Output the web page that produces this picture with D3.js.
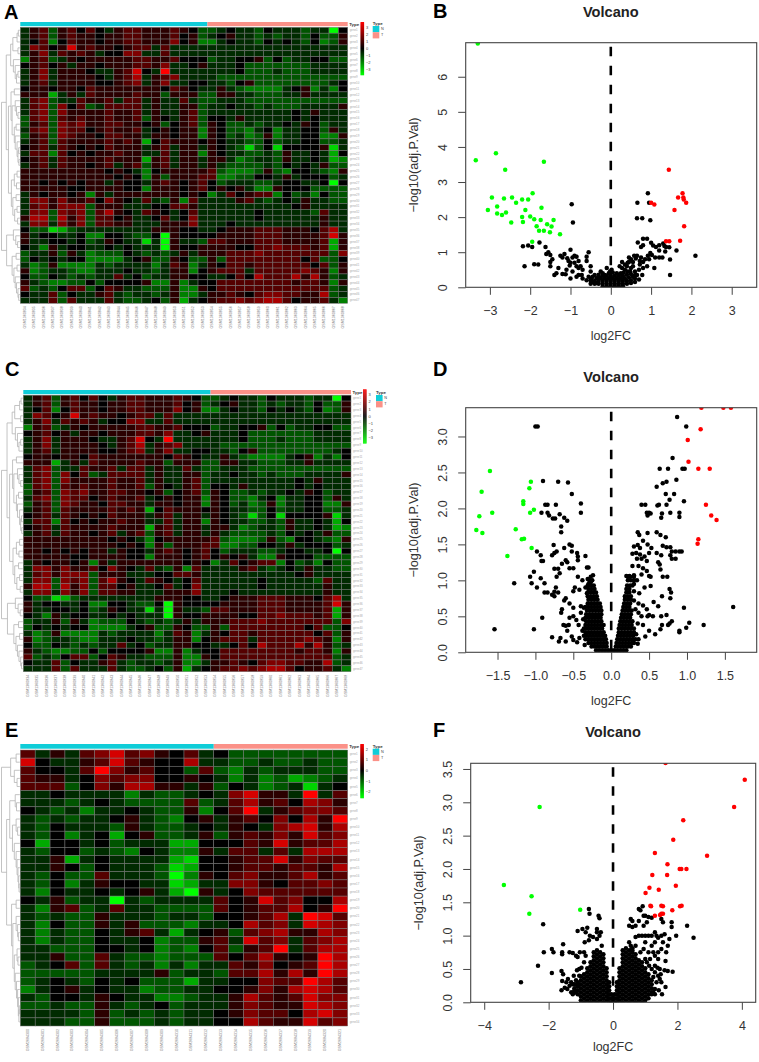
<!DOCTYPE html>
<html><head><meta charset="utf-8">
<script src="https://cdn.jsdelivr.net/npm/d3@7/dist/d3.min.js"></script>
<style>html,body{margin:0;padding:0;background:#fff}svg{display:block}text{font-family:"Liberation Sans",Arial,sans-serif}</style>
</head><body><svg id="fig" width="759" height="1062"></svg>
<script>
// ---------- heatmap A / C (47 rows, 20 N + 15 T); each digit 0..c is a colour level, 6 = black
const heatRowsA = [
"57847 86865 78877 78764 45655 46555 45506","57847 87767 78877 78674 56755 45455 46447",
"56836 87767 78877 79673 35655 46565 46347","59867 b7877 67885 85555 55555 55555 55555",
"57958 78756 69955 85555 55555 55555 55555","37845 76777 77887 78666 45566 74645 56644",
"67867 57767 77887 95567 55564 44444 45555","57957 77655 78b65 c5555 55564 44544 45555",
"57957 77765 78a57 89555 54444 44444 44444","57857 77766 78957 95566 55467 44444 44456",
"67767 76877 77777 68765 57543 33356 73536","77725 75877 77877 47774 47755 44455 75555",
"58945 58778 58857 55854 45554 44444 44444","58949 68458 88857 55774 55655 45444 55557",
"58949 77778 77857 55784 55555 55556 57555","48948 78778 77847 65784 66575 55556 56555",
"47849 89778 87767 46784 76445 45565 76455","58949 88678 77856 76773 76443 56355 66475",
"47849 87768 87757 76773 76453 47355 66337","57848 77778 78726 87776 76554 46455 66445",
"67858 76768 77757 85775 76541 46166 66715","58838 67677 87755 85773 76554 45475 56526",
"67858 77778 77727 85775 77534 55475 56523","57858 77678 57847 85775 75444 45465 65744",
"77777 77776 76536 77777 84333 47436 65437","77777 77777 67637 47778 83344 66575 66645",
"77676 76775 76657 87678 64555 44566 55606","77777 66777 76637 77678 67675 33766 64444",
"57677 67375 77777 77676 35867 88364 53644","59979 77869 76585 47385 55578 54565 75544",
"58979 99477 75556 68875 55555 55556 75555","59949 8948a 76587 65685 55555 65555 54855",
"7aa4a 79488 67556 85695 55555 65555 55755","59959 79488 77555 77795 55655 55555 55755",
"64412 45555 55557 77665 56777 88877 768a5","75665 56336 65446 07666 67777 88877 778b7",
"75566 56457 65515 07554 88777 88877 77827","65375 66556 56555 07667 77766 88988 87827",
"45574 75344 46545 45757 77888 98888 88849","46565 66333 35674 47644 74888 88888 68446",
"53473 33354 55553 58735 76887 88888 86847","73455 43355 56554 57736 78885 88888 98737",
"64465 45455 85645 57766 55686 a888a 7a745","75433 44646 66673 37356 68888 88887 88737",
"84546 88468 75544 47337 68888 88888 88845","65584 65578 54554 57335 77876 89988 77a45",
"55584 85558 54456 47256 78898 9aa86 77853"];
// ---------- heatmap E (34 rows, 13 N + 9 T)
const heatRowsE = [
"85758 9b897 68564 44444 44","b6557 8b876 6a554 45445 44","86658 c9786 64843 54555 44",
"87756 98996 67653 53423 45","88846 97aa7 75746 53451 56","55655 55354 45659 b775c 58",
"55545 65444 48458 a786a 97","65453 55654 47368 c5789 98","54545 56754 36757 8696a 7c",
"54655 54754 45657 659ab 7a","54635 62674 45747 8797b 89","62665 64555 22666 87b78 8a",
"54664 54365 33758 8585a aa","55725 65555 21667 88b79 88","55764 65554 12667 88788 7a",
"54644 85554 03768 9778a 78","54635 76655 12559 97688 98","53655 65675 20756 98888 88",
"65745 50545 55586 7b896 6a","53784 58554 44486 788a6 7c","54544 75554 55466 78a5c b8",
"53644 75744 43556 a895b a9","53544 65785 25674 89a77 a9","53544 65563 44785 b8958 9a",
"55444 66563 43684 78c58 aa","55744 85443 44486 8a767 ca","45684 85453 53558 79678 ca",
"44444 55557 45548 8a7a7 ca","45654 65644 42556 6988c a8","35675 65534 45566 797ab a8",
"54665 76553 34557 a878b 99","44544 75456 45557 9877b a9","55554 74545 45567 9886a b9",
"55544 74445 45566 a877b 89"];
const typeCountsAC = [20, 15];
const typeCountsE = [13, 9];
const typeNames = ["N", "T"];
const colorTicksAC = [3, 2, 1, 0, -1, -2, -3];
const colorTicksE = [2, 1, 0, -1, -2];
const colorMaxAC = 3.8, colorMaxE = 2.5;
const sampleNamesA = ["GSM1360834","GSM1360835","GSM1360836","GSM1360837","GSM1360838","GSM1360839","GSM1360840","GSM1360841","GSM1360842","GSM1360843","GSM1360844","GSM1360845","GSM1360846","GSM1360847","GSM1360848","GSM1360849","GSM1360850","GSM1360851","GSM1360852","GSM1360853","GSM1360854","GSM1360855","GSM1360856","GSM1360857","GSM1360858","GSM1360859","GSM1360860","GSM1360861","GSM1360862","GSM1360863","GSM1360864","GSM1360865","GSM1360866","GSM1360867","GSM1360868"];
const sampleNamesE = ["GSM2684300","GSM2684301","GSM2684302","GSM2684303","GSM2684304","GSM2684305","GSM2684306","GSM2684307","GSM2684308","GSM2684309","GSM2684310","GSM2684311","GSM2684312","GSM2684313","GSM2684314","GSM2684315","GSM2684316","GSM2684317","GSM2684318","GSM2684319","GSM2684320","GSM2684321"];
// ---------- dendrograms: [height, left, right], leaves are row numbers
const treeAC = [1,
 [.74,
  [.5,[.38,[.15,[.08,0,1],2],[.1,3,4]],[.35,5,[.25,6,[.18,[.1,7,8],9]]]],
  [.62,[.48,[.3,10,11],[.42,[.25,12,[.18,13,[.1,14,15]]],[.3,[.2,16,17],[.25,18,[.15,19,[.1,[.06,20,21],[.05,22,23]]]]]]],
       [.46,[.3,[.15,24,25],[.18,26,27]],[.38,[.2,28,29],[.28,[.15,30,31],[.12,32,33]]]]]],
 [.72,[.35,34,[.22,35,[.12,36,37]]],[.42,[.2,38,39],[.32,[.15,40,41],[.25,42,[.18,43,[.1,44,[.06,45,46]]]]]]]];
const treeE = [1,
 [.5,[.2,0,1],[.3,2,[.15,3,4]]],
 [.72,[.55,[.25,5,[.18,6,7]],[.4,[.2,8,[.12,9,10]],[.3,11,[.2,12,[.15,13,[.1,14,[.06,15,[.04,16,17]]]]]]]],
      [.45,[.2,18,19],[.38,[.2,20,[.12,21,[.08,22,23]]],[.3,[.15,24,[.1,25,26]],[.25,27,[.18,28,[.12,29,[.08,30,[.05,[.03,31,32],33]]]]]]]]]];
// ---------- volcano B
const bGreen = [[-3.3,6.95],[-3.35,3.62],[-2.85,3.82],[-2.62,3.35],[-1.66,3.58],[-2.95,2.56],[-2.65,2.53],[-2.45,2.56],[-2.2,2.5],[-2.05,2.5],[-2.35,2.41],[-1.94,2.68],[-2.82,2.3],[-3.05,2.2],[-2.82,2.1],[-2.7,2.06],[-2.6,2.13],[-2.12,2.2],[-1.72,2.27],[-2.2,2],[-2.18,1.86],[-2.47,1.85],[-2,2.02],[-1.9,1.94],[-1.74,1.92],[-1.42,1.92],[-1.58,1.8],[-1.47,1.73],[-1.84,1.74],[-1.78,1.61],[-1.66,1.61],[-1.51,1.57],[-1.26,1.51],[-1.95,1.3]];
const bRed = [[1.44,3.35],[1.78,2.68],[1.67,2.56],[1.8,2.56],[1.81,2.5],[1.87,2.41],[1,2.41],[1.08,2.36],[1.58,2.2],[1.82,1.74],[1.37,1.31],[1.45,1.31],[1.72,1.33]];
const bBlack = [[-.97,2.37],[-.94,1.85],[.92,2.68],[.66,2.41],[.95,2.41],[.65,1.97],[.78,1.97],[.98,1.91],[-1.77,1.28],[-2.18,1.17],[-2.05,1.19],[-1.95,1.15],[-1.62,1.15],[-2.14,.6],[-1.9,.66],[-1.8,.65],[2.1,.9],[1.47,.35],[1.47,.79],[1.63,1.05],[1.45,1.14],[1.37,1.15],[1.3,1.25],[1.33,1.18],[1.2,1.05],[.67,1.28],[.75,1.15],[.8,1.2],[.8,1.38],[.9,1.38],[1,1.27],[1.05,1.19],[1.12,1.15],[1.2,1.2],[1.35,1.02],[1.28,.85],[1.2,.85],[1.1,.85],[1.08,.55],[.98,.98],[.92,.9],[1.02,.92],[.95,.8],[.85,.8],[.8,.72],[.75,.85],[.72,.65],[.65,.9],[.58,.9],[.5,.8],[.45,.85],[.42,.7],[.9,.6],[.8,.55],[.7,.5],[.78,.35],[.65,.35],[.55,.6],[.6,.45],[.5,.55],[.4,.6],[.35,.5],[.28,.72],
[-1,1.07],[-.55,1],[-.6,.87],[-.6,.75],[-1.6,.95],[-1.55,1],[-1.5,.92],[-1.45,.8],[-1.5,.72],[-1.5,.6],[-1.4,.35],[-1.35,.4],[-1.3,.55],[-1.25,.9],[-1.2,.85],[-1.15,.95],[-1.2,.38],[-1.12,.37],[-1.1,.5],[-1,.25],[-1,.7],[-.95,.85],[-.9,.9],[-.85,.87],[-.9,.7],[-.85,.6],[-.8,.55],[-.75,.6],[-.7,.5],[-.72,.35],[-.8,.35],[-.7,.25],[-.85,.3],[-.6,.2],[-.55,.3],[-.5,.6],[-.5,.45],[-.48,.25],[-.45,.15],[-.4,.35],[-.35,.12],[-.3,.3],[-.25,.45],[-.2,.4],[-.15,.35],[-.1,.55],[-.95,.45],[-1.05,.75],[-.8,.75],[-1.08,.83],[-1.02,.62],
[-.5,.1],[-.4,.1],[-.3,.1],[-.2,.03],[-.2,.1],[-.1,.03],[-.1,.1],[0,.03],[0,.1],[.1,.03],[.1,.1],[.2,.03],[.2,.1],[.3,.03],[.3,.1],[.4,.1],[.5,.12],[.6,.15],[-.5,.2],[-.4,.18],[-.3,.18],[-.2,.18],[-.1,.18],[0,.18],[.1,.18],[.2,.18],[.3,.18],[.4,.18],[.5,.2],[.6,.25],[.7,.22],
[-.45,.3],[-.35,.26],[-.25,.26],[-.15,.26],[-.05,.26],[.05,.26],[.15,.26],[.25,.26],[.35,.26],[.45,.28],[.55,.3],[-.3,.36],[-.2,.33],[-.1,.33],[0,.33],[.1,.33],[.2,.33],[.3,.33],[.4,.36],[.5,.38],[.6,.35],[.05,.42],[.15,.4],[.25,.4],[.32,.42],[.42,.45],[.48,.45],[.28,.55],[.22,.6],[.35,.65],[.45,.72],[.55,.72],[.62,.82],[.72,.75],[-.05,.4],[-.02,.45],[.02,.5]];
// ---------- volcano D
const dGreen = [[-1.6,2.52],[-1.71,2.23],[-1.74,1.89],[-1.57,1.94],[-1.78,1.7],[-1.7,1.66],[-1.26,1.71],[-1.18,1.57],[-1.15,1.58],[-1.37,1.34],[-1.05,1.45],[-1.06,2.37],[-1.08,2.28],[-1.16,2.1],[-1.16,2.06],[-1.02,1.98],[-1.07,1.94]];
const dRed = [[1.19,3.4],[1.48,3.4],[1.58,3.4],[1.18,3.1],[1.01,2.95],[1.02,2.65],[1.15,2.55],[1.3,2.55],[1.25,2.05],[1.32,1.9],[1.39,1.84],[1.15,1.57],[1.14,1.51]];
const dBlack = [[-1,3.14],[-.97,3.14],[.87,3.27],[.99,3.14],[.81,2.7],[.64,2.55],[.75,2.55],[.94,2.55],[.97,2.55],[.86,2.4],[.73,2.37],[.6,2.3],[.68,2.35],[.83,2.2],[.72,2.2],[.77,2.12],[.96,2.1],[.73,2.05],[.63,2.05],[.61,2.04],[.45,2.05],[.4,2.05],[.47,1.94],[.5,1.94],[.52,1.93],[.48,1.9],[.67,1.93],[.66,1.87],[.78,1.94],[.9,1.94],[.9,1.88],
[-.9,2.38],[-.7,2.37],[-.57,2.36],[-.52,2.2],[-.4,2.07],[-.4,1.94],[-.87,2.05],[-.84,2.05],[-.73,2.05],[-.92,1.94],[-.84,1.94],[-.82,1.9],[-.77,1.86],[-.74,1.86],[-.68,1.92],[-.62,1.87],[-.58,1.83],[-.66,1.75],[-.66,1.67],
[-.76,1.49],[-.75,1.38],[-.72,1.4],[-.78,1.35],[-.62,1.45],[-.55,1.5],[-.52,1.48],[-.52,1.4],[-.45,1.38],[-.44,1.33],[-.44,1.28],[-.34,1.34],[-.6,1.28],[-.58,1.25],[-.65,1.23],[-.55,1.17],[-.5,1.17],[-.7,1.16],[-.75,1.16],[-.72,1.05],[-.68,1.1],[-.32,1.18],[-.3,1.18],[-.93,1.35],[-.92,1.27],[-.9,1.27],[-.98,1.4],[-1.02,1.12],[-1.07,1.05],[-1.05,.96],[-.98,.9],[-.93,1.03],[-.88,.96],[-.88,.83],[-.84,.83],[-.78,.8],[-.75,.84],[-.73,.9],[-.7,.83],[-.75,.78],[-1.28,.96],[-1.54,.32],[-1.02,.32],[-.91,.48],[-.78,.21],[-.69,.15],[-.67,.2],[-.6,.15],[-.58,.3],[-.56,.38],[-.52,.22],[-.5,.17],[-.45,.14],[-.42,.2],[-.38,.3],[-.35,.1],[-.55,.48],[-.5,.5],[-.46,.45],[-.43,.38],[-.4,.55],[-.37,.46],[-.36,.62],[-.4,.64],[-.5,.62],[-.55,.68],[-.62,.72],[-.65,.6],[-.66,.55],[-.6,.75],[-.63,.38],[-.6,.37],[-.5,.85],[-.48,.9],[-.42,.87],[-.44,1.05],[-.38,1],[-.31,1.02],[-.34,.9],[-.32,.82],[-.3,.95],[-.27,.97],[-.24,1.07],
[1.61,.63],[.96,.62],[1.03,.41],[1.22,.38],[.99,.34],[.9,.3],[.9,.28],[.8,.43],[.77,.4],[.75,.38],[.73,.52],[.66,.5],[.62,.64],[.56,.7],[.67,.78],[.78,.75],[.79,.83],[.77,.88],[.74,1.05],[.68,1.05],[.65,1.15],[.64,1.22],[.62,1.25],[.78,1.35],[.8,1.3],[.85,1.3],[.85,1.4],[.9,1.4],[.93,1.4],[.8,1.4],[.78,1.46],[.73,1.46],[.68,1.48],[.66,1.35],[.6,1.38],[.72,1.6],[.65,1.63],[.6,1.67],[.48,1.66],[.35,1.67],[.37,1.63],[.42,1.55],[.48,1.5],[.53,1.45],
[.3,1.47],[.35,1.49],[.38,1.45],[.28,1.37],[.33,1.38],[.38,1.36],[.44,1.33],[.5,1.38],[.47,1.27],[.4,1.3],[.34,1.3],[.28,1.2],[.36,1.2],[.42,1.17],[.47,1.13],[.5,1.06],[.52,1.05],[.4,1.08],[.3,1.07],[.24,1.06],[.2,1.06],[.34,1],[.3,.95],[.44,.9],[.52,.92],[.37,.82],[.3,.85],[.3,.72],[.36,.68],[.42,.65],[.47,.6],[.5,.52],[.55,.5],[.48,.5],[.4,.5],[.36,.55],[.32,.6],[.35,.4],[.42,.38],[.5,.3],[.58,.25],[.65,.32],[.67,.38],[.45,.22],[.36,.18],[.33,.25],[.35,.12]];
const dMassRows = [
[.03,[-.2,-.16,-.12,-.08,-.04,0,.04,.08,.12,.16,.2]],[.08,[-.26,-.22,-.18,-.14,-.1,-.06,.06,.1,.14,.18,.22,.26]],[.13,[-.3,-.26,-.22,-.18,-.14,-.1,-.06,.07,.11,.15,.19,.23,.27,.3]],
[.18,[-.34,-.3,-.26,-.22,-.18,-.14,-.1,-.07,.08,.12,.16,.2,.24,.28,.32]],[.23,[-.36,-.32,-.28,-.24,-.2,-.16,-.12,-.08,.09,.13,.17,.21,.25,.29]],[.28,[-.34,-.3,-.26,-.22,-.18,-.14,-.1,.1,.14,.18,.22,.26,.3]],
[.33,[-.36,-.32,-.28,-.24,-.2,-.16,-.12,.1,.14,.18,.22,.26,.3]],[.38,[-.34,-.3,-.26,-.22,-.18,-.14,-.1,.11,.15,.19,.23,.27]],[.43,[-.33,-.29,-.25,-.21,-.17,-.13,.12,.16,.2,.24,.28]],
[.48,[-.34,-.3,-.26,-.22,-.18,-.14,.13,.17,.21,.25]],[.53,[-.33,-.29,-.25,-.21,-.17,-.13,.14,.18,.22,.26]],[.58,[-.32,-.28,-.24,-.2,-.16,-.13,.15,.19,.23,.27]],
[.63,[-.34,-.3,-.26,-.22,-.18,-.14,.16,.2,.24]],[.68,[-.31,-.27,-.23,-.19,-.15,.17,.21,.25]],[.73,[-.3,-.26,-.22,-.18,.18,.22,.26]],[.78,[-.31,-.27,-.23,-.19,.18,.22,.26]],
[.83,[-.31,-.27,-.23,-.2,.2,.24]],[.88,[-.3,-.26,-.22,.2,.24]],[.93,[-.31,-.27,-.23,.21,.25,.28]],[1,[-.29,-.25,.22,.26,.3]],[1.05,[-.27,.22,.25,.3]]];
// ---------- volcano F
const fGreen = [[-2.28,2.93],[-3.39,1.76],[-2.53,1.59],[-2.6,1.33],[-1.02,1.39]];
const fRed = [[1.63,3.59],[4.09,3.34],[3.76,2.93],[2.18,2.73],[1.87,2.44],[1.3,2.24],[2.92,2.2],[1.69,2.07],[2.07,2],[2.12,2],[2.28,2],[1.22,1.91],[1.68,1.91],[1.95,1.75],[1.13,1.72],[1.42,1.69],[1.01,1.64],[1.16,1.45],[1.18,1.44],[1.5,1.45],[1.55,1.44],[2.08,1.44],[2.13,1.45],[1.84,1.38],[1.3,1.3],[1.46,1.31],[1.5,1.33],[1.55,1.33]];
const fBlack = [[-2.86,.3],[-2.17,1.17],[-2.15,.75],[-1.9,.8],[-1.85,.75],[-2.33,.55],[-1.9,.44],[-1.55,.87],[-1.58,.75],[-1.58,.72],[-1.35,.75],[-1.25,.74],[-1.15,.7],[-1.1,.68],[-1.03,.75],[-.9,.75],[-.85,.7],[-1.1,1.07],[-.95,1.1],[-.85,1.05],[-.8,1.12],[-.88,.9],[-.75,.93],[-.72,1],[-.62,.98],[-.5,1.1],[-.5,1.05],[-.42,1],[-.38,1.05],[-.5,.95],[-.35,.85],[-.75,1.4],[-.73,1.33],[-.45,1.3],[-.42,1.26],[-1.6,.47],[-1.55,.42],[-1.58,.32],[-1.6,.18],[-1.5,.22],[-1.45,.3],[-1.4,.35],[-1.35,.25],[-1.3,.3],[-1.25,.27],[-1.2,.18],[-1.15,.15],[-1.1,.25],[-1.05,.4],[-1.05,.5],[-.98,.52],[-.9,.6],[-1.42,.2],[-1.3,.15],[-1.22,.4],[-1.12,.48],[-1.15,.33],[-1.25,.12],
[.8,1.4],[.85,1.38],[.92,1.44],[.95,1.3],[1,1.3],[1.1,1.28],[1.2,1.27],[.55,1.25],[.6,1.22],[.5,1.15],[.6,1.13],[.7,1.15],[.8,1.22],[.95,1.15],[1.05,1.2],[1.3,1.05],[1.5,1.25],[1.55,1.2],[1.82,1.2],[1.82,1.13],[2.3,1.15],[2.5,.97],[1.96,1],[1.6,1.02],[1.75,.95],[1.5,1],[1.4,.97],[1.35,1],[1.2,1],[1.1,1],[1,1],[.9,1],[.8,1],[.7,.98],[.5,.9],[.55,.85],[.7,.85],[1,.9],[1.2,.85],[1.3,.9],[1.55,.9],[1.7,.85],[1.65,.75],[1.5,.8],[1.4,.75],[1.25,.75],[1.1,.75],[.95,.8],[.85,.75],[.6,.78],[1.7,.47],[1.85,.46],[1.63,.62],[1.6,.48],[1.45,.5],[1.63,.23],[1.3,.2],[1.25,.15],[1.2,.12],[1.4,.4],[1.3,.45],[1.3,.55],[1.4,.65],[1.3,.7],[1.15,.65],[1.05,.6],[1,.65],[1.35,.3],[1.45,.35],[1.5,.3],[1.25,.38],[1.2,.5],[1.42,.18],[1.52,.12],[1.12,.55],[1.48,.42],[1.38,.52]];
const fMassCols = [
[-1.2,[.15,.21,.27]],[-1.1,[.12,.18,.24,.3]],[-1,[.03,.09,.15,.21,.27,.33,.39]],[-.9,[0,.06,.12,.18,.24,.3,.36,.42]],
[-.8,[.03,.09,.15,.21,.27,.33,.39,.45,.51]],[-.7,[0,.06,.12,.18,.24,.3,.36,.42,.48,.54,.6]],[-.6,[.03,.09,.15,.21,.27,.33,.39,.45,.51,.57,.63,.69,.75]],
[-.5,[0,.06,.12,.18,.24,.3,.36,.42,.48,.54,.6,.66,.72,.78]],[-.4,[.03,.09,.15,.21,.27,.33,.39,.45,.51,.57,.63,.69,.75]],[-.3,[0,.06,.12,.18,.24,.3,.36,.42,.48,.54,.6,.66,.72]],
[-.2,[.03,.09,.15,.21,.27,.33,.39,.45,.51]],[-.12,[0,.06,.12,.18,.24,.3]],[-.05,[0,.06,.12]],[.05,[0,.06,.12]],[.12,[0,.06,.12,.18,.24,.3]],[.2,[.03,.09,.15,.21,.27,.33,.39,.45,.51]],
[.3,[0,.06,.12,.18,.24,.3,.36,.42,.48,.54,.6,.66,.72,.78]],[.4,[.03,.09,.15,.21,.27,.33,.39,.45,.51,.57,.63,.69,.75,.81]],[.5,[0,.06,.12,.18,.24,.3,.36,.42,.48,.54,.6,.66,.72,.78]],
[.6,[.03,.09,.15,.21,.27,.33,.39,.45,.51,.57,.63,.69,.75,.81]],[.7,[0,.06,.12,.18,.24,.3,.36,.42,.48,.54,.6,.66,.72]],[.8,[.03,.09,.15,.21,.27,.33,.39,.45,.51,.57,.63]],
[.9,[0,.06,.12,.18,.24,.3,.36,.42,.48,.54,.6]],[1,[.03,.09,.15,.21,.27,.33,.39,.45,.51]],[1.1,[.06,.12,.18,.24,.3,.36,.42]],[1.2,[.15,.21,.27,.33]],[1.3,[.12]]];
const bXTicks = [-3,-2,-1,0,1,2,3], bYTicks = [0,1,2,3,4,5,6];
const dXTicks = [-1.5,-1,-.5,0,.5,1,1.5], dYTicks = [0,.5,1,1.5,2,2.5,3];
const fXTicks = [-4,-2,0,2,4], fYTicks = [0,.5,1,1.5,2,2.5,3,3.5];

const svg = d3.select("#fig");
const FONT = '"Liberation Sans",Arial,sans-serif';
const colorScale = m => d3.scaleLinear().domain([-m,0,m]).range(["#00ff00","#000000","#ff0000"]);
const teal = "#0fcdd8", salmon = "#fb9188";
const cladeStroke = "#b4b4b4";

function parseRows(rows, m){
  return rows.map(r => Array.from(r.replace(/ /g,"")).map(c => (parseInt(c,16)-6)*m/6));
}
function heatmap(o){
  const vals = parseRows(o.rows,o.max), nr = vals.length, nc = vals[0].length;
  const g = svg.append("g");
  const x = d3.scaleBand().domain(d3.range(nc)).range([o.x0,o.x1]);
  const y = d3.scaleBand().domain(d3.range(nr)).range([o.y0,o.y1]);
  const col = colorScale(o.max);
  const nN = o.counts[0];
  g.append("rect").attr("x",x(0)).attr("y",o.barY).attr("width",x.bandwidth()*nN).attr("height",o.barH).attr("fill",teal);
  g.append("rect").attr("x",x(nN)).attr("y",o.barY).attr("width",x.bandwidth()*o.counts[1]).attr("height",o.barH).attr("fill",salmon);
  vals.forEach((row,i)=>row.forEach((v,j)=>{
    g.append("rect").attr("x",x(j)).attr("y",y(i)).attr("width",x.bandwidth()).attr("height",y.bandwidth())
     .attr("fill",col(v)).attr("stroke","#777").attr("stroke-width",.5);
  }));
  g.selectAll(null).data(d3.range(nr)).join("text").attr("x",o.x1+2).attr("y",d=>y(d)+y.bandwidth()/2+1)
   .attr("font-size",o.labelSize).attr("fill","#aaa").text(d=>"gene"+(d+1));
  g.selectAll(null).data(o.samples).join("text")
   .attr("transform",(d,i)=>`translate(${x(i)+x.bandwidth()/2+1},${o.y1+3}) rotate(-90)`)
   .attr("text-anchor","end").attr("font-size",3.6).attr("fill","#777").text(d=>d);
  const hx = d3.scaleLinear().domain([0,1]).range([o.x0-.5,o.treeX]);
  const rowC = i => y(i)+y.bandwidth()/2;
  const segs=[];
  (function walk(n){
    if(typeof n==="number") return {h:0,p:rowC(n)};
    const a=walk(n[1]), b=walk(n[2]), h=n[0];
    segs.push([hx(a.h),a.p,hx(h),a.p],[hx(b.h),b.p,hx(h),b.p],[hx(h),a.p,hx(h),b.p]);
    return {h,p:(a.p+b.p)/2};
  })(o.tree);
  g.selectAll(null).data(segs).join("line").attr("x1",d=>d[0]).attr("y1",d=>d[1]).attr("x2",d=>d[2]).attr("y2",d=>d[3])
   .attr("stroke",cladeStroke).attr("stroke-width",.8);
  g.append("text").attr("x",o.x1+1.5).attr("y",o.barY+o.barH-.3).attr("font-size",4.4).attr("font-weight","bold").attr("fill","#333").text("Type");
  const cb = d3.scaleLinear().domain([o.max,-o.max]).range([o.cbY0,o.cbY1]);
  const cbSteps = d3.range(0,o.cbY1-o.cbY0,1);
  g.selectAll(null).data(cbSteps).join("rect").attr("x",o.cbX).attr("y",d=>o.cbY0+d).attr("width",3.6).attr("height",1.3)
   .attr("fill",d=>col(cb.invert(o.cbY0+d+.5)));
  g.selectAll(null).data(o.ticks).join("text").attr("x",o.cbX+5.5).attr("y",d=>cb(d)+1.4).attr("font-size",4)
   .attr("fill","#444").text(d=>String(d).replace("-","\u2212"));
  g.append("text").attr("x",o.legX).attr("y",o.legY-1).attr("font-size",4.4).attr("font-weight","bold").attr("fill","#333").text("Type");
  typeNames.forEach((nm,i)=>{
    g.append("rect").attr("x",o.legX).attr("y",o.legY+i*6.2).attr("width",6.6).attr("height",6.2).attr("fill",i?salmon:teal);
    g.append("text").attr("x",o.legX+8.2).attr("y",o.legY+i*6.2+4.2).attr("font-size",3.8).attr("fill","#444").text(nm);
  });
}
heatmap({rows:heatRowsA,max:colorMaxAC,x0:20.3,x1:347.7,y0:27.3,y1:303.3,barY:22,barH:4.2,counts:typeCountsAC,samples:sampleNamesA,labelSize:2.9,tree:treeAC,treeX:1.5,cbX:360.5,cbY0:22,cbY1:75,ticks:colorTicksAC,legX:372.7,legY:26});
heatmap({rows:heatRowsA,max:colorMaxAC,x0:23.3,x1:351,y0:395.2,y1:671.7,barY:390,barH:4.2,counts:typeCountsAC,samples:sampleNamesA,labelSize:2.9,tree:treeAC,treeX:1.5,cbX:363,cbY0:389.3,cbY1:443.3,ticks:colorTicksAC,legX:376,legY:395});
heatmap({rows:heatRowsE,max:colorMaxE,x0:20.3,x1:347.7,y0:750,y1:1026,barY:744,barH:4.7,counts:typeCountsE,samples:sampleNamesE,labelSize:2.9,tree:treeE,treeX:1.5,cbX:360.3,cbY0:744,cbY1:797.3,ticks:colorTicksE,legX:372.7,legY:748.7});

function volcano(o){
  const g = svg.append("g");
  const x = d3.scaleLinear().domain(o.xd).range([o.l,o.r]);
  const y = d3.scaleLinear().domain(o.yd).range([o.b,o.t]);
  const id = "clip"+o.id;
  svg.append("defs").append("clipPath").attr("id",id).append("rect").attr("x",o.l).attr("y",o.t).attr("width",o.r-o.l).attr("height",o.b-o.t);
  const xf = d => o.xfmt(d).replace("-","\u2212");
  const ax = g.append("g").attr("transform",`translate(0,${o.b})`).call(d3.axisBottom(x).tickValues(o.xt).tickSize(7.5).tickPadding(6).tickFormat(xf));
  const ay = g.append("g").attr("transform",`translate(${o.l},0)`).call(d3.axisLeft(y).tickValues(o.yt).tickSize(7.5).tickFormat(o.yfmt));
  [ax,ay].forEach(a=>{a.select(".domain").remove();a.selectAll("line").attr("stroke","#444").attr("stroke-width",1);
    a.selectAll("text").attr("font-family",FONT).attr("font-size",12.5).attr("fill","#333");});
  ax.selectAll("text").attr("y",o.xLabY-o.b).attr("dy",".36em");
  ay.selectAll("text").attr("text-anchor","middle").attr("dy",0).attr("x",0).attr("y",0)
    .attr("transform",`translate(${o.yLabX-o.l},0) rotate(-90) translate(0,4.4)`);
  const pts = g.append("g").attr("clip-path",`url(#${id})`);
  pts.append("line").attr("x1",x(0)).attr("x2",x(0)).attr("y1",o.t+4).attr("y2",o.b).attr("stroke","#000").attr("stroke-width",2.6).attr("stroke-dasharray","9.5 9.5");
  [[o.black,"#000"],[o.red,"#ff0000"],[o.green,"#00ff00"]].forEach(([data,c])=>{
    pts.selectAll(null).data(data).join("circle").attr("cx",d=>x(d[0])).attr("cy",d=>y(d[1])).attr("r",2.25).attr("fill",c);
  });
  g.append("rect").attr("x",o.l).attr("y",o.t).attr("width",o.r-o.l).attr("height",o.b-o.t).attr("fill","none").attr("stroke","#444").attr("stroke-width",1.1);
  g.append("text").attr("x",x(0)).attr("y",o.titleY).attr("text-anchor","middle").attr("font-size",14.6).attr("font-weight","bold").attr("fill","#222").text("Volcano");
  g.append("text").attr("x",x(0)).attr("y",o.xTitleY).attr("text-anchor","middle").attr("font-size",12.5).attr("fill","#333").text("log2FC");
  g.append("text").attr("transform",`translate(${o.yTitleX},${o.yTitleY}) rotate(-90)`).attr("text-anchor","middle").attr("font-size",12.7).attr("fill","#333").text("\u2212log10(adj.P.Val)");
}
const flatRows = rows => d3.merge(rows.map(([yv,xs])=>xs.map(xv=>[xv,yv])));
const flatCols = cols => d3.merge(cols.map(([xv,ys])=>ys.map(yv=>[xv,yv])));
const f1 = d=>d3.format(".1f")(d), f0 = d=>String(d);
volcano({id:"B",l:465.7,r:756.7,t:42.7,b:287.3,xd:[-3.6,3.62],yd:[0,6.97],xt:bXTicks,yt:bYTicks,xfmt:f0,yfmt:f0,black:bBlack,red:bRed,green:bGreen,xLabY:311,yLabX:442.7,titleY:17,xTitleY:339.5,yTitleX:417.5,yTitleY:165});
volcano({id:"D",l:465.7,r:756.7,t:407.7,b:652.3,xd:[-1.92,1.92],yd:[0,3.4],xt:dXTicks,yt:dYTicks,xfmt:f1,yfmt:f1,black:dBlack.concat(flatRows(dMassRows)),red:dRed,green:dGreen,xLabY:676,yLabX:442.7,titleY:382,xTitleY:704.5,yTitleX:417.5,yTitleY:530});
volcano({id:"F",l:470.7,r:755.7,t:763.3,b:1002.3,xd:[-4.42,4.43],yd:[0,3.585],xt:fXTicks,yt:fYTicks,xfmt:f0,yfmt:f1,black:fBlack.concat(flatCols(fMassCols)),red:fRed,green:fGreen,xLabY:1026,yLabX:448,titleY:737,xTitleY:1050.5,yTitleX:423,yTitleY:883});

const panelLetters = ["A","B","C","D","E","F"];
const letterX = [4,433,5,433,5,433], letterY = [18.5,18,375.7,376,737,737];
svg.selectAll(".letter").data(panelLetters).join("text").attr("class","letter").attr("x",(d,i)=>letterX[i]).attr("y",(d,i)=>letterY[i])
  .attr("font-size",20).attr("font-weight","bold").attr("fill","#000").text(d=>d);
</script></body></html>
